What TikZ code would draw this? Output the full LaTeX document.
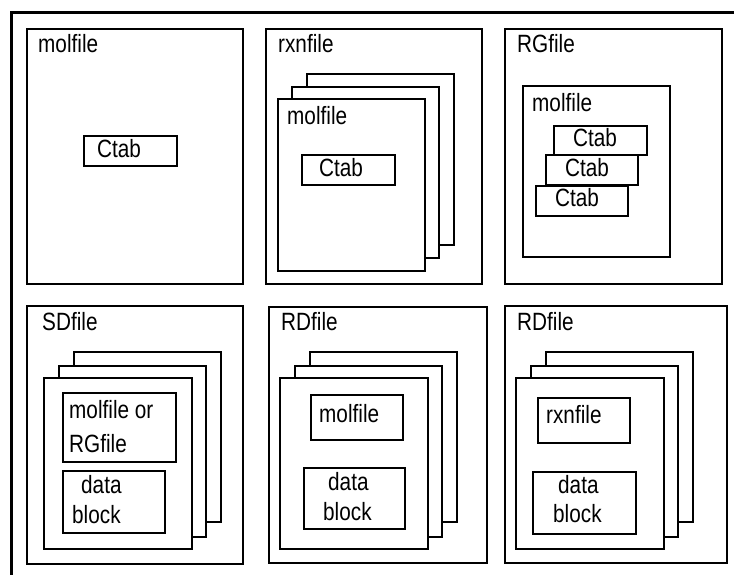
\documentclass[tikz,border=0pt]{standalone}
\usepackage{fontspec}
\setmainfont{Liberation Sans}[FakeStretch=0.83]
\usetikzlibrary{fit}
\begin{document}
\begin{tikzpicture}[x=1pt,y=-1pt,
  box/.style={draw, line width=2pt, fill=white, inner sep=0pt},
  lbl/.style={anchor=base west, inner sep=0pt, font=\fontsize{25}{29}\selectfont},
  frame/.style={line width=3pt}]
\useasboundingbox (0,0) rectangle (734,575);
% open frame: top and left rules
\coordinate (fc) at (11,12.5);
\coordinate (fr) at (734,12.5);
\coordinate (fb) at (11,575);
\draw[frame] (fr) -- (fc) -- (fb);

% ---- molfile ----
\node[box, fit={(27,29) (243,284)}] (p1) {};
\node[lbl] (p1t) at (38,53) {molfile};
\node[box, fit={(84,136) (177,166)}] (p1c) {};
\node[lbl] (p1ct) at (97,158) {Ctab};

% ---- rxnfile ----
\node[box, fit={(266,29) (482,284)}] (p2) {};
\node[lbl] (p2t) at (278,53) {rxnfile};
\node[box, fit={(307,74) (454,245)}] (p2a) {};
\node[box, fit={(292,87) (439,258)}] (p2b) {};
\node[box, fit={(278,99) (425,271)}] (p2c) {};
\node[lbl] (p2ct) at (287,125) {molfile};
\node[box, fit={(302,155) (395,185)}] (p2d) {};
\node[lbl] (p2dt) at (319,177) {Ctab};

% ---- RGfile ----
\node[box, fit={(505,29) (722,284)}] (p3) {};
\node[lbl] (p3t) at (517,53) {RGfile};
\node[box, fit={(523,86) (670,257)}] (p3m) {};
\node[lbl] (p3mt) at (532,112) {molfile};
\node[box, fit={(554,126) (647,155)}] (p3a) {};
\node[lbl] (p3at) at (573,147) {Ctab};
\node[box, fit={(546,155) (638,185)}] (p3b) {};
\node[lbl] (p3bt) at (565,177) {Ctab};
\node[box, fit={(536,186) (628,216)}] (p3c) {};
\node[lbl] (p3ct) at (555,207) {Ctab};

% ---- SDfile ----
\node[box, fit={(27,306) (243,564)}] (p4) {};
\node[lbl] (p4t) at (42,330) {SDfile};
\node[box, fit={(74,352) (221,522)}] (p4a) {};
\node[box, fit={(59,366) (206,537)}] (p4b) {};
\node[box, fit={(44,378) (192,549)}] (p4c) {};
\node[box, fit={(63,393) (176,462)}] (p4m) {};
\node[lbl] (p4m1) at (69,418) {molfile or};
\node[lbl] (p4m2) at (69,452) {RGfile};
\node[box, fit={(63,471) (165,533)}] (p4d) {};
\node[lbl] (p4d1) at (81,493) {data};
\node[lbl] (p4d2) at (72,523) {block};

% ---- RDfile (molfile) ----
\node[box, fit={(269,307) (487,563)}] (p5) {};
\node[lbl] (p5t) at (281,330) {RDfile};
\node[box, fit={(310,352) (457,522)}] (p5a) {};
\node[box, fit={(295,366) (442,537)}] (p5b) {};
\node[box, fit={(280,378) (428,549)}] (p5c) {};
\node[box, fit={(311,395) (403,440)}] (p5m) {};
\node[lbl] (p5mt) at (319,422) {molfile};
\node[box, fit={(304,468) (405,529)}] (p5d) {};
\node[lbl] (p5d1) at (328,490) {data};
\node[lbl] (p5d2) at (323,520) {block};

% ---- RDfile (rxnfile) ----
\node[box, fit={(505,306) (727,563)}] (p6) {};
\node[lbl] (p6t) at (517,330) {RDfile};
\node[box, fit={(546,352) (693,522)}] (p6a) {};
\node[box, fit={(531,366) (678,537)}] (p6b) {};
\node[box, fit={(516,378) (664,549)}] (p6c) {};
\node[box, fit={(538,398) (630,443)}] (p6r) {};
\node[lbl] (p6rt) at (546,423) {rxnfile};
\node[box, fit={(533,472) (636,534)}] (p6d) {};
\node[lbl] (p6d1) at (558,493) {data};
\node[lbl] (p6d2) at (553,522) {block};
\end{tikzpicture}
\end{document}
